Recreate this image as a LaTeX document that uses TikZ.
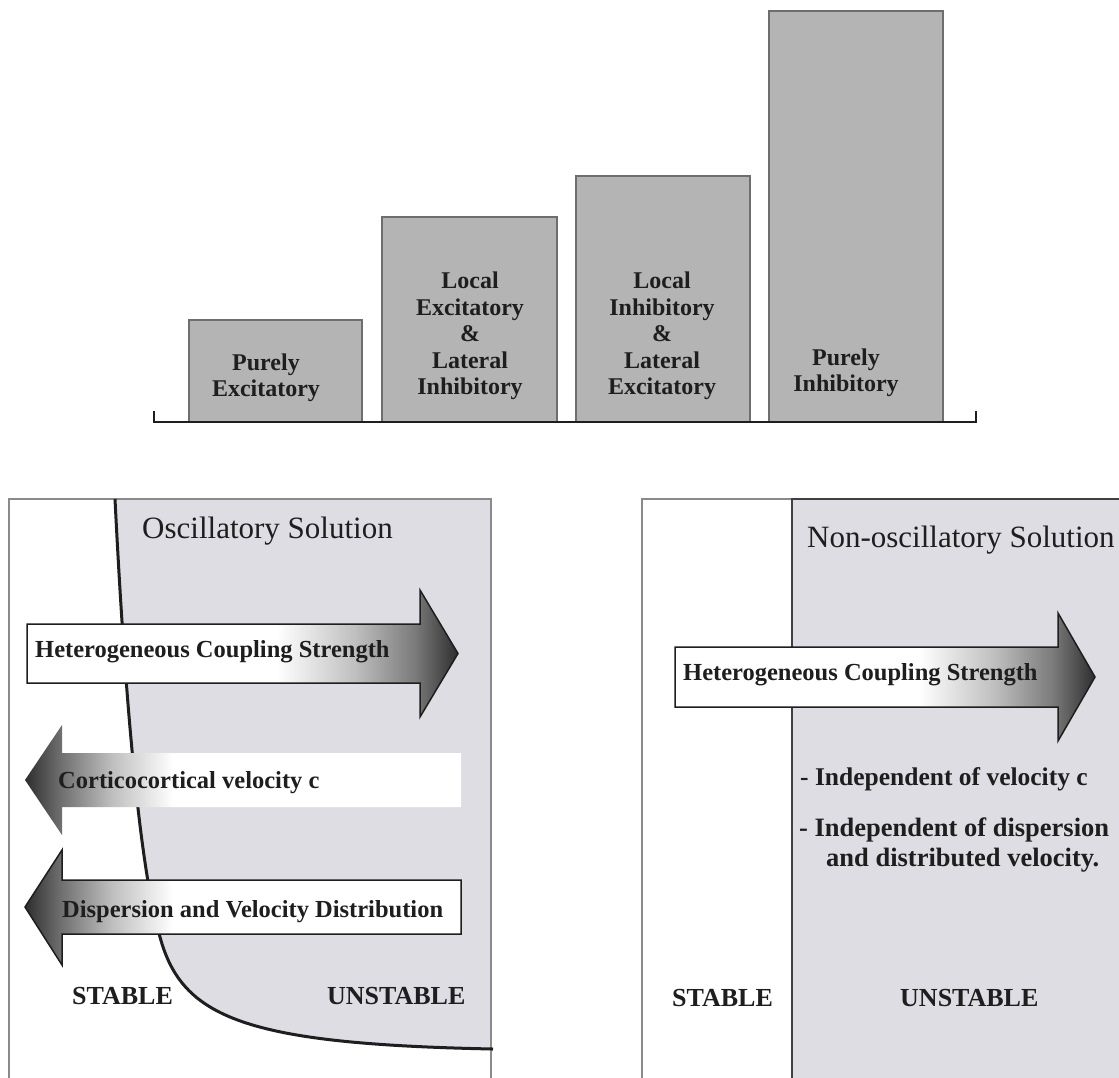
\documentclass[tikz,border=0pt]{standalone}
\usepackage{fontspec}
\setmainfont{Liberation Serif}
\definecolor{barfill}{HTML}{B4B4B4}
\definecolor{barline}{HTML}{6E6E6E}
\definecolor{panelfill}{HTML}{DDDDE3}
\definecolor{panelline}{HTML}{8A8A8A}
\definecolor{ink}{HTML}{1E1E1E}
\pgfdeclarehorizontalshading{arrR}{100bp}{color(0bp)=(white); color(54bp)=(white); color(63bp)=(black!25); color(70bp)=(black!52); color(75bp)=(black!82); color(100bp)=(black!82)}
\pgfdeclarehorizontalshading{arrL}{100bp}{color(0bp)=(black!82); color(25bp)=(black!82); color(29bp)=(black!57); color(35bp)=(black!25); color(42bp)=(white); color(100bp)=(white)}
\tikzset{
  bar/.style={fill=barfill, draw=barline, line width=1.4pt},
  axisline/.style={draw=ink, line width=1.6pt},
  panel/.style={draw=panelline, line width=1.4pt},
  divider/.style={draw=ink!85, line width=1.8pt},
  curve/.style={draw=ink, line width=3pt},
  outline/.style={draw=ink, line width=1.5pt},
  bartext/.style={font=\bfseries\fontsize{24}{26.5}\selectfont, text=ink, align=center, inner sep=0pt, anchor=south},
  lbl/.style={font=\bfseries\fontsize{24.5}{28}\selectfont, text=ink, inner sep=0pt, anchor=base west},
  side/.style={font=\bfseries\fontsize{26}{30}\selectfont, text=ink, inner sep=0pt, anchor=base west},
  note/.style={font=\bfseries\fontsize{25.5}{30}\selectfont, text=ink, inner sep=0pt, anchor=base west},
  notewide/.style={font=\bfseries\fontsize{26.5}{30}\selectfont, text=ink, inner sep=0pt, anchor=base west},
  title/.style={font=\fontsize{31}{36}\selectfont, text=ink, inner sep=0pt, anchor=base west}
}
\begin{document}
\begin{tikzpicture}[x=1pt,y=-1pt]
\useasboundingbox (0,0) rectangle (1119,1077);
\clip (0,0) rectangle (1119,1077);
\fill[white] (0,0) rectangle (1119,1077);

% ---------- top bar chart ----------
\draw[bar] (189,422) rectangle (362,320);
\draw[bar] (382,422) rectangle (557,217);
\draw[bar] (576,422) rectangle (750,176);
\draw[bar] (769,422) rectangle (943,11);
\draw[axisline] (154,411) -- (154,422) -- (976,422) -- (976,411);

\node[bartext] (b1) at (266,402) {Purely\\Excitatory};
\node[bartext] (b2) at (470,400) {Local\\Excitatory\\\&\\Lateral\\Inhibitory};
\node[bartext] (b3) at (662,400) {Local\\Inhibitory\\\&\\Lateral\\Excitatory};
\node[bartext] (b4) at (846,397) {Purely\\Inhibitory};

% ---------- left panel ----------
\coordinate (c0) at (115,499);
\coordinate (c1) at (160,937);
\coordinate (c2) at (493,1049);
\fill[panelfill] (c0) .. controls (125,700) and (140,870) .. (c1)
   .. controls (182,1018) and (245,1044) .. (c2) -- (491,1049) -- (491,499) -- cycle;
\draw[panel] (9,1090) -- (9,499) -- (491,499) -- (491,1090);
\draw[curve] (c0) .. controls (125,700) and (140,870) .. (c1)
   .. controls (182,1018) and (245,1044) .. (c2);

\node[title] (osc) at (142,538) {Oscillatory Solution};

\shadedraw[shading=arrR, outline] (27,624) -- (420,624) -- (420,590) -- (458,653.5) -- (420,717) -- (420,683) -- (27,683) -- cycle;
\node[lbl] (hcs1) at (35,657) {Heterogeneous Coupling Strength};

\shade[shading=arrL] (461,753) -- (62,753) -- (62,725) -- (25,780) -- (62,835) -- (62,807) -- (461,807) -- cycle;
\node[lbl] (cv) at (58,788) {Corticocortical velocity c};

\shadedraw[shading=arrL, outline] (461,880) -- (62,880) -- (62,850) -- (25,907) -- (62,965) -- (62,934) -- (461,934) -- cycle;
\node[lbl] (dvd) at (62,917) {Dispersion and Velocity Distribution};

\node[side] (st1) at (72,1004) {STABLE};
\node[side] (un1) at (327,1004) {UNSTABLE};

% ---------- right panel ----------
\fill[panelfill] (792,499) rectangle (1125,1090);
\draw[panel] (642,1090) -- (642,499) -- (792,499);
\draw[divider] (792,1090) -- (792,499) -- (1125,499);

\node[title] (nosc) at (807,547) {Non-oscillatory Solution};

\shadedraw[shading=arrR, outline] (675,647) -- (1058,647) -- (1058,613) -- (1095,677) -- (1058,741) -- (1058,707) -- (675,707) -- cycle;
\node[lbl] (hcs2) at (683,680) {Heterogeneous Coupling Strength};

\node[note] (n1) at (800,785) {- Independent of velocity c};
\node[notewide] (n2) at (799,836) {- Independent of dispersion};
\node[notewide] (n3) at (826,866) {and distributed velocity.};

\node[side] (st2) at (672,1006) {STABLE};
\node[side] (un2) at (900,1006) {UNSTABLE};
\end{tikzpicture}
\end{document}
